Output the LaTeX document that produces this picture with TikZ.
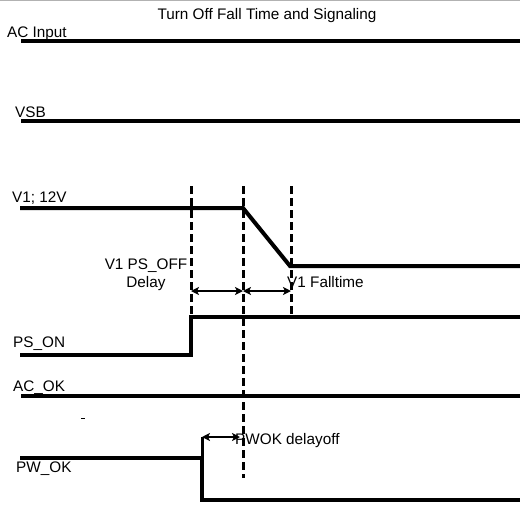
\documentclass[tikz,border=0pt]{standalone}
\usepackage{fontspec}
\setmainfont{Liberation Sans}
\usetikzlibrary{arrows.meta}
\begin{document}
\begin{tikzpicture}[x=1pt,y=-1pt,
  sig/.style={line width=4pt},
  guide/.style={line width=3pt,dash pattern=on 8pt off 4pt},
  dim/.style={line width=2pt,{Stealth[length=8pt,width=8pt,inset=2pt]}-{Stealth[length=8pt,width=8pt,inset=2pt]}},
  lbl/.style={inner sep=0pt,anchor=base west,font=\fontsize{15.3}{18}\selectfont}]
\useasboundingbox (0,0) rectangle (520,504);
\draw[gray!60,line width=1pt] (0,0.5) -- (520,0.5);
% signal coordinates
\coordinate (ac0) at (21,41);  \coordinate (ac1) at (520,41);
\coordinate (vs0) at (21,121); \coordinate (vs1) at (520,121);
\coordinate (v0) at (20,208); \coordinate (v1) at (243,208);
\coordinate (v2) at (290,266); \coordinate (v3) at (520,266);
\coordinate (p0) at (20,355); \coordinate (p1) at (191,355);
\coordinate (p2) at (191,317); \coordinate (p3) at (520,317);
\coordinate (k0) at (21,396); \coordinate (k1) at (520,396);
\coordinate (w0) at (20,458); \coordinate (w1) at (202,458);
\coordinate (w2) at (202,500); \coordinate (w3) at (520,500);
% signals
\draw[sig] (ac0) -- (ac1);
\draw[sig] (vs0) -- (vs1);
\draw[sig] (v0) -- (v1) -- (v2) -- (v3);
\draw[sig] (p0) -- (p1) -- (p2) -- (p3);
\draw[sig] (k0) -- (k1);
\draw[sig] (w0) -- (w1) -- (w2) -- (w3);
% guides
\coordinate (g1t) at (191,186); \coordinate (g1b) at (191,317);
\coordinate (g2t) at (243,186); \coordinate (g2b) at (243,478);
\coordinate (g3t) at (291,186); \coordinate (g3b) at (291,314);
\draw[guide] (g1t) -- (g1b);
\draw[guide] (g2t) -- (g2b);
\draw[guide] (g3t) -- (g3b);
% dimension arrows
\coordinate (a1) at (191,291); \coordinate (a2) at (243,291); \coordinate (a3) at (291,291);
\draw[dim] (a1) -- (a2);
\draw[dim] (a2) -- (a3);
\coordinate (b1) at (202,437); \coordinate (b2) at (240,437);
\draw[dim] (b1) -- (b2);
\draw[line width=3pt] (b1) -- (w1);
\draw[line width=1pt] (81,418) -- (85,418);
% title
\node[lbl,anchor=base] (title) at (267,19) {Turn Off Fall Time and Signaling};
% labels
\node[lbl] (lac) at (7,37.5) {AC Input};
\node[lbl] (lvsb) at (15,117) {VSB};
\node[lbl] (lv1) at (12,202) {V1; 12V};
\node[lbl] (lpson) at (13,347) {PS\_ON};
\node[lbl] (lacok) at (13,391) {AC\_OK};
\node[lbl] (lpwok) at (16,472) {PW\_OK};
\node[lbl,anchor=base,align=center] (ldelay) at (146,287) {V1 PS\_OFF\\Delay};
\node[lbl] (lfall) at (287,287) {V1 Falltime};
\node[lbl] (lpwdel) at (235,444) {PWOK delayoff};
\end{tikzpicture}
\end{document}
